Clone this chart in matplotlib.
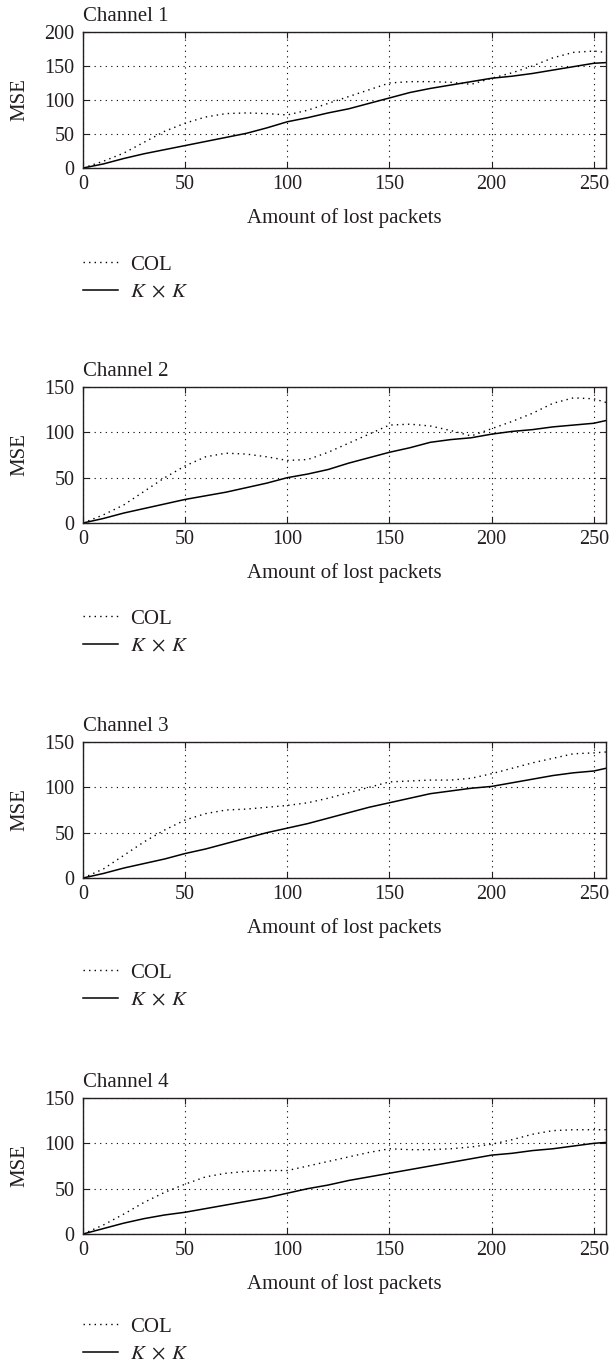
import matplotlib
matplotlib.use("Agg")
import matplotlib.pyplot as plt

# =========================
# DATA
# =========================

x_col = [0, 10, 20, 30, 40, 50, 60, 70, 80, 90, 100, 110, 120, 130, 140, 150,
         160, 170, 180, 190, 200, 210, 220, 230, 240, 250, 256]

ch1_col = [0, 10, 22, 38, 54, 66, 75, 80, 81, 80, 78, 85, 95, 105, 115, 125,
           127, 127, 126, 123, 132, 140, 150, 162, 170, 172, 170]
ch1_kxk = [0, 6, 14, 21, 27, 33, 39, 45, 51, 59, 68, 74, 81, 87, 95, 103,
           111, 117, 122, 127, 132, 135, 139, 144, 149, 154, 155]

ch2_col = [0, 9, 20, 35, 50, 63, 73, 77, 76, 73, 69, 70, 78, 88, 98, 108,
           109, 107, 102, 96, 104, 112, 121, 132, 138, 137, 133]
ch2_kxk = [0, 5, 11, 16, 21, 26, 30, 34, 39, 44, 50, 54, 59, 66, 72, 78,
           83, 89, 92, 94, 98, 101, 103, 106, 108, 110, 113]

ch3_col = [0, 10, 25, 40, 53, 64, 71, 75, 76, 78, 80, 83, 88, 94, 100, 106,
           107, 108, 108, 110, 115, 121, 127, 132, 137, 138, 139]
ch3_kxk = [0, 5, 11, 16, 21, 27, 32, 38, 44, 50, 55, 60, 66, 72, 78, 83,
           88, 93, 96, 99, 101, 105, 109, 113, 116, 118, 121]

ch4_col = [0, 10, 22, 35, 46, 55, 63, 67, 69, 70, 70, 75, 80, 85, 90, 94,
           93, 93, 94, 96, 99, 104, 110, 114, 115, 115, 115]
ch4_kxk = [0, 6, 12, 17, 21, 24, 28, 32, 36, 40, 45, 50, 54, 59, 63, 67,
           71, 75, 79, 83, 87, 89, 92, 94, 97, 100, 101]

titles = ["Channel 1", "Channel 2", "Channel 3", "Channel 4"]
col_series = [ch1_col, ch2_col, ch3_col, ch4_col]
kxk_series = [ch1_kxk, ch2_kxk, ch3_kxk, ch4_kxk]
y_max = [200, 150, 150, 150]

# =========================
# STYLE
# =========================

ink = "#231f20"
plt.rcParams["font.family"] = ["Liberation Serif", "DejaVu Serif"]
plt.rcParams["mathtext.fontset"] = "stix"
plt.rcParams["font.size"] = 14.5
plt.rcParams["text.color"] = ink
plt.rcParams["axes.labelcolor"] = ink
plt.rcParams["xtick.color"] = ink
plt.rcParams["ytick.color"] = ink

W, H = 615, 1364
fig = plt.figure(figsize=(W / 100, H / 100), dpi=100)

ax_left, ax_right = 83, 606
ax_h = 136
tops = [32, 387, 742, 1098]
legend_tops = [255, 609, 963, 1317]

dotted = (0, (1, 4))

for i in range(4):
    top = tops[i]
    ax = fig.add_axes([ax_left / W, 1 - (top + ax_h) / H,
                       (ax_right - ax_left) / W, ax_h / H])

    l1, = ax.plot(x_col, col_series[i], color="black", lw=1.0,
                  linestyle=(0, (1, 3)), label="COL")
    l2, = ax.plot(x_col, kxk_series[i], color="black", lw=1.1,
                  label=r"$K\;\times\;K$")

    ax.set_xlim(0, 256)
    ax.set_ylim(0, y_max[i])
    ax.set_xticks([0, 50, 100, 150, 200, 250])
    ax.set_yticks(range(0, y_max[i] + 1, 50))

    ax.grid(True, color="black", linestyle=dotted, linewidth=0.8)
    ax.tick_params(direction="in", top=True, right=True, length=4,
                   width=0.8)
    ax.tick_params(axis="x", pad=5)
    ax.tick_params(axis="y", pad=6)
    for s in ax.spines.values():
        s.set_linewidth(1.0)
        s.set_color(ink)

    ax.set_title(titles[i], loc="left", pad=8, fontsize=15)
    ax.set_ylabel("MSE", labelpad=11, fontsize=15)
    ax.set_xlabel("Amount of lost packets", labelpad=10, fontsize=15)

    fig.legend(handles=[l1, l2], loc="upper left",
               bbox_to_anchor=(ax_left / W, 1 - legend_tops[i] / H),
               frameon=False, borderpad=0, borderaxespad=0, fontsize=15,
               handlelength=1.7, handletextpad=0.58, labelspacing=0.38)

fig.savefig("out.png", dpi=100)
